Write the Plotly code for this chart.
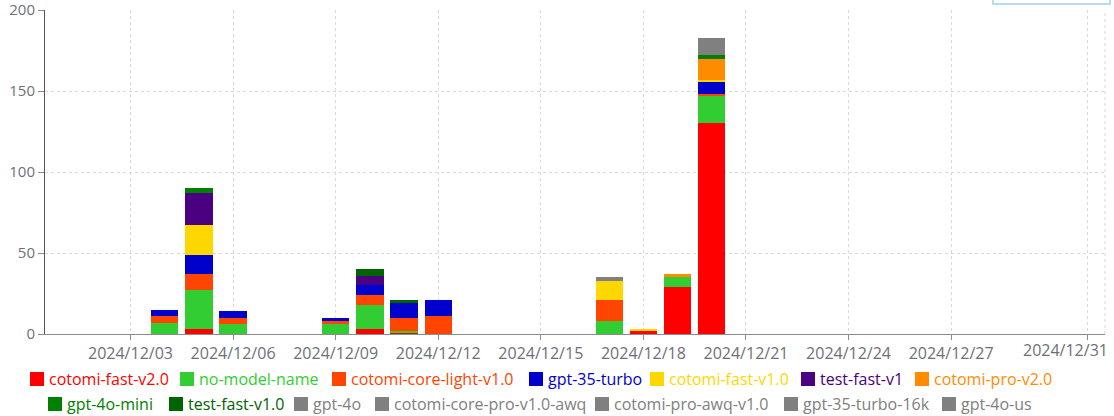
import plotly.graph_objects as go

# ---------------- data ----------------
dates = ["2024-12-04", "2024-12-05", "2024-12-06", "2024-12-09", "2024-12-10",
         "2024-12-11", "2024-12-12", "2024-12-17", "2024-12-18", "2024-12-19", "2024-12-20"]

series_names = ["cotomi-fast-v2.0", "no-model-name", "cotomi-core-light-v1.0", "gpt-35-turbo",
                "cotomi-fast-v1.0", "test-fast-v1", "cotomi-pro-v2.0", "gpt-4o-mini",
                "test-fast-v1.0", "gpt-4o", "cotomi-core-pro-v1.0-awq", "cotomi-pro-awq-v1.0",
                "gpt-35-turbo-16k", "gpt-4o-us"]

cotomi_fast_v2 = [0, 3, 0, 0, 3, 1, 0, 0, 2, 29, 130]
no_model_name = [7, 24, 6, 6, 15, 1, 0, 8, 0, 6, 17]
cotomi_core_light_v1 = [4, 10, 4, 2, 6, 8, 11, 13, 0, 0, 1]
gpt_35_turbo = [4, 12, 4, 2, 6, 9, 10, 0, 0, 0, 8]
cotomi_fast_v1 = [0, 18, 0, 0, 0, 0, 0, 12, 1, 0, 1]
test_fast_v1 = [0, 20, 0, 0, 6, 0, 0, 0, 0, 0, 0]
cotomi_pro_v2 = [0, 0, 0, 0, 0, 0, 0, 0, 0, 2, 13]
gpt_4o_mini = [0, 3, 0, 0, 0, 0, 0, 0, 0, 0, 2]
test_fast_v1_0 = [0, 0, 0, 0, 4, 2, 0, 0, 0, 0, 0]
gpt_4o = [0, 0, 0, 0, 0, 0, 0, 2, 0, 0, 3]
cotomi_core_pro_awq = [0, 0, 0, 0, 0, 0, 0, 0, 0, 0, 2]
cotomi_pro_awq_v1 = [0, 0, 0, 0, 0, 0, 0, 0, 0, 0, 2]
gpt_35_turbo_16k = [0, 0, 0, 0, 0, 0, 0, 0, 0, 0, 2]
gpt_4o_us = [0, 0, 0, 0, 0, 0, 0, 0, 0, 0, 2]

series_values = [cotomi_fast_v2, no_model_name, cotomi_core_light_v1, gpt_35_turbo,
                 cotomi_fast_v1, test_fast_v1, cotomi_pro_v2, gpt_4o_mini, test_fast_v1_0,
                 gpt_4o, cotomi_core_pro_awq, cotomi_pro_awq_v1, gpt_35_turbo_16k, gpt_4o_us]

series_colors = ["#FF0000", "#32CD32", "#FF4500", "#0000CD", "#FFD700", "#4B0082", "#FF8C00",
                 "#008000", "#006400", "#808080", "#808080", "#808080", "#808080", "#808080"]

tick_dates = ["2024-12-03", "2024-12-06", "2024-12-09", "2024-12-12", "2024-12-15",
              "2024-12-18", "2024-12-21", "2024-12-24", "2024-12-27", "2024-12-31"]
tick_labels = [d.replace("-", "/") for d in tick_dates]

# ---------------- layout geometry (pixels) ----------------
W, H = 1114, 416
L, R, T, B = 45, 1105, 10, 334
DAY_MS = 86400000


def px_x(px):
    return (px - L) / (R - L)


def px_y(py):
    return (B - py) / (B - T)


fig = go.Figure()
for name, vals, col in zip(series_names, series_values, series_colors):
    fig.add_trace(go.Bar(
        x=dates, y=vals, name=name, width=0.8 * DAY_MS,
        marker=dict(color=col, line=dict(width=0)),
        showlegend=False,
    ))

# custom legend (two centred rows as in the reference)
legend_rows = [
    [(0, 30), (1, 180), (2, 332), (3, 529), (4, 650), (5, 801), (6, 915)],
    [(7, 48), (8, 169), (9, 294), (10, 375), (11, 595), (12, 784), (13, 942)],
]
row_y = [379, 404]
shapes = []
annotations = []
for r, row in enumerate(legend_rows):
    yc = row_y[r]
    for idx, xi in row:
        col = series_colors[idx]
        shapes.append(dict(type="rect", xref="paper", yref="paper",
                           x0=px_x(xi), x1=px_x(xi + 14),
                           y0=px_y(yc + 7), y1=px_y(yc - 7),
                           fillcolor=col, line=dict(width=0)))
        annotations.append(dict(xref="paper", yref="paper", x=px_x(xi + 17), y=px_y(yc),
                                xanchor="left", yanchor="middle", showarrow=False,
                                text=series_names[idx],
                                font=dict(family="Open Sans", size=16, color=col)))

# last x tick label, pulled inside the chart as in the reference
last_label = tick_labels[-1]
tick_text_shown = tick_labels[:-1] + [""]
annotations.append(dict(xref="paper", yref="paper", x=px_x(1110), y=px_y(350),
                        xanchor="right", yanchor="middle", showarrow=False,
                        text=last_label,
                        font=dict(family="Open Sans", size=16, color="#6E7079")))

# right border dashed line
shapes.append(dict(type="line", xref="paper", yref="paper", x0=1, x1=1, y0=0, y1=1,
                   line=dict(color="#d9d9d9", width=1, dash="3px,3px")))
# partially visible control box at top right
shapes.append(dict(type="rect", xref="paper", yref="paper",
                   x0=px_x(993), x1=px_x(1110), y0=px_y(4), y1=px_y(-8),
                   line=dict(color="#9fd0ef", width=1.5), fillcolor="rgba(0,0,0,0)"))

fig.update_layout(
    width=W, height=H,
    margin=dict(l=L, r=W - R, t=T, b=H - B, pad=0, autoexpand=False),
    barmode="stack",
    bargap=0.2,
    plot_bgcolor="white", paper_bgcolor="white",
    shapes=shapes, annotations=annotations,
    showlegend=False,
    font=dict(family="Open Sans", size=15, color="#6E7079"),
)
fig.update_xaxes(
    type="date",
    range=["2024-11-30 12:00", "2024-12-31 12:00"],
    tickmode="array", tickvals=tick_dates, ticktext=tick_text_shown,
    showgrid=True, gridcolor="#d9d9d9", griddash="3px,3px", gridwidth=1,
    showline=True, linecolor="#8c8c8c", linewidth=1,
    ticks="outside", ticklen=5, tickcolor="#8c8c8c",
    tickfont=dict(family="Open Sans", size=16, color="#6E7079"),
    zeroline=False, fixedrange=True, automargin=False, ticklabeloverflow="allow",
)
fig.update_yaxes(
    range=[0, 200], tickmode="linear", tick0=0, dtick=50,
    showgrid=True, gridcolor="#d9d9d9", griddash="3px,3px", gridwidth=1,
    showline=True, linecolor="#555555", linewidth=1,
    ticks="outside", ticklen=6, tickcolor="#8c8c8c",
    tickfont=dict(family="Open Sans", size=15, color="#6E7079"),
    zeroline=False, fixedrange=True, automargin=False, ticklabeloverflow="allow",
)

fig.write_html(
    "out.html",
    config={"displayModeBar": False},
    post_script="document.body.style.margin='0';document.body.style.overflow='hidden';",
)
